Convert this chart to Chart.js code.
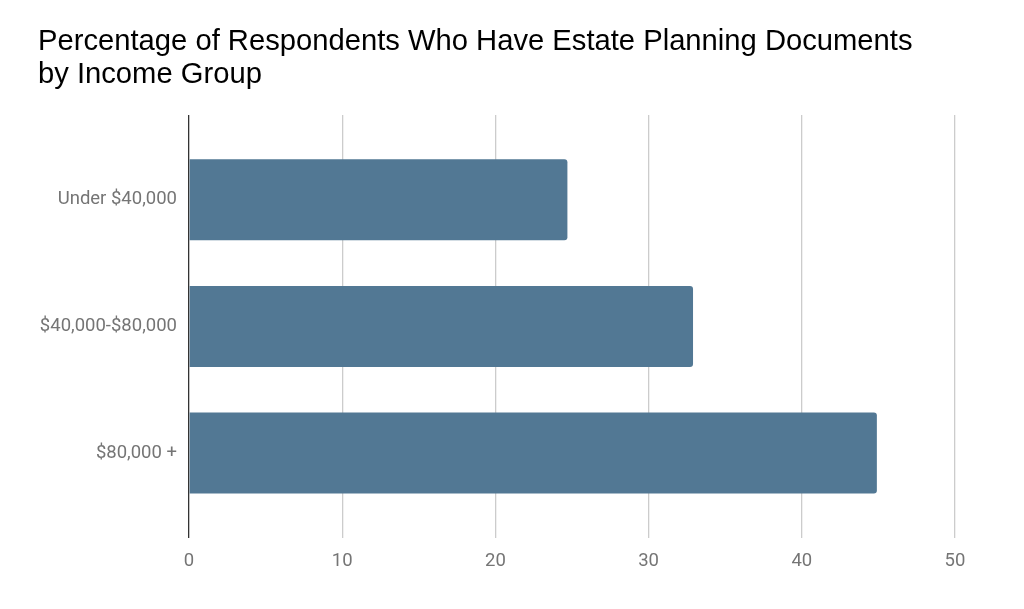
<!DOCTYPE html>
<html>
<head>
<meta charset="utf-8">
<script src="https://cdn.jsdelivr.net/npm/chart.js@4.4.1/dist/chart.umd.min.js"></script>
<style>
  html, body { margin: 0; padding: 0; background: #fff; }
  #wrap { width: 1024px; height: 609px; }
</style>
</head>
<body>
<div id="wrap"><canvas id="estateChart"></canvas></div>
<script>
// dados
const incomeGroups = ['Under $40,000', '$40,000-$80,000', '$80,000 +'];
const pctWithDocs = [24.7, 32.9, 44.9];
const titleLines = ['Percentage of Respondents Who Have Estate Planning Documents', 'by Income Group'];

const barColor = '#527894';
const tickGray = '#757575';

const ctx = document.getElementById('estateChart').getContext('2d');

new Chart(ctx, {
  type: 'bar',
  data: {
    labels: incomeGroups,
    datasets: [{
      data: pctWithDocs,
      backgroundColor: barColor,
      borderRadius: 3,
      borderSkipped: 'start',
      barPercentage: 0.8,
      categoryPercentage: 0.8
    }]
  },
  options: {
    indexAxis: 'y',
    responsive: true,
    maintainAspectRatio: false,
    animation: false,
    layout: {
      padding: { left: 38, right: 69, top: 0, bottom: 25 }
    },
    plugins: {
      legend: { display: false },
      tooltip: { enabled: false },
      title: {
        display: true,
        text: titleLines,
        align: 'start',
        color: '#000',
        font: { family: 'Liberation Sans, Arial, sans-serif', size: 29.2, weight: 'normal', lineHeight: 1.13 },
        padding: { top: 25, bottom: 24 }
      }
    },
    scales: {
      x: {
        min: 0,
        max: 50,
        ticks: {
          stepSize: 10,
          color: tickGray,
          padding: 12,
          font: { family: 'Roboto, sans-serif', size: 18.5 }
        },
        grid: {
          drawTicks: false,
          lineWidth: 1.3,
          color: c => c.tick && c.tick.value === 0 ? '#333333' : '#cccccc'
        },
        border: { display: false }
      },
      y: {
        ticks: {
          color: tickGray,
          padding: 12,
          font: { family: 'Roboto, sans-serif', size: 18.5 }
        },
        grid: { display: false, drawTicks: false },
        border: { display: false },
        afterFit: s => { s.width = 151; },
        // espaço extra acima e abaixo das categorias, como no original
        afterBuildTicks: s => {
          s._valueRange += 0.34;
          s._startValue -= 0.17;
        }
      }
    }
  }
});
</script>
</body>
</html>
